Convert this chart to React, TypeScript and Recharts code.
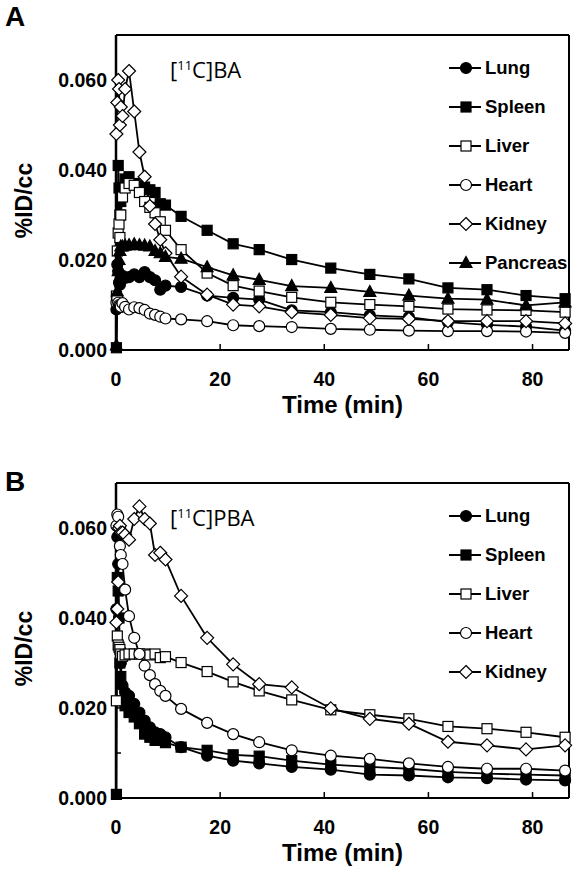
import { LineChart, Line, XAxis, YAxis, ReferenceLine, Legend, Label } from "recharts"

const TIMES = [0.08, 0.25, 0.42, 0.58, 0.75, 0.92, 1.25, 1.75, 2.5, 3.5, 4.5, 5.5, 6.5, 7.5, 8.5, 9.5, 12.5, 17.5, 22.5, 27.5, 33.75, 41.25, 48.75, 56.25, 63.75, 71.25, 78.75, 86.25]
const X_TICKS = [0, 20, 40, 60, 80]
const Y_TICKS = [0, 0.01, 0.02, 0.03, 0.04, 0.05, 0.06, 0.07]

// [11C]BA
const LUNG_A = [0.009, 0.019, 0.0175, 0.015, 0.0145, 0.016, 0.0165, 0.016, 0.0162, 0.0168, 0.0162, 0.0173, 0.0162, 0.0155, 0.0134, 0.0143, 0.014, 0.0121, 0.0116, 0.0112, 0.0088, 0.0084, 0.0077, 0.0073, 0.0062, 0.0056, 0.0052, 0.0043]
const SPLEEN_A = [0.0005, 0.0095, 0.041, 0.036, 0.03, 0.033, 0.036, 0.038, 0.0385, 0.037, 0.0365, 0.0362, 0.0356, 0.035, 0.0325, 0.0322, 0.0297, 0.0266, 0.0236, 0.0223, 0.0201, 0.0182, 0.0168, 0.0158, 0.0138, 0.0134, 0.0121, 0.0114]
const LIVER_A = [0.012, 0.022, 0.026, 0.028, 0.025, 0.03, 0.034, 0.036, 0.037, 0.0366, 0.035, 0.033, 0.0317, 0.0305, 0.0285, 0.0266, 0.0223, 0.0171, 0.0143, 0.0131, 0.0117, 0.0106, 0.0101, 0.0097, 0.0091, 0.0089, 0.0088, 0.0084]
const HEART_A = [0.0105, 0.0115, 0.0105, 0.01, 0.0098, 0.0096, 0.0104, 0.0096, 0.009, 0.0095, 0.0093, 0.0089, 0.0081, 0.0078, 0.0074, 0.007, 0.0068, 0.0064, 0.0055, 0.0053, 0.0051, 0.0047, 0.0045, 0.0043, 0.0042, 0.0042, 0.0041, 0.0038]
const KIDNEY_A = [0.048, 0.055, 0.06, 0.058, 0.05, 0.054, 0.052, 0.058, 0.062, 0.053, 0.044, 0.0385, 0.032, 0.028, 0.0245, 0.0215, 0.0163, 0.0123, 0.0101, 0.0097, 0.0084, 0.0078, 0.0071, 0.0069, 0.0064, 0.0064, 0.0064, 0.0059]
const PANCREAS_A = [0.001, 0.013, 0.0175, 0.02, 0.022, 0.023, 0.023, 0.0232, 0.0233, 0.0235, 0.0233, 0.0232, 0.023, 0.022, 0.0215, 0.0207, 0.0203, 0.0184, 0.0166, 0.0156, 0.0142, 0.0138, 0.0129, 0.0121, 0.0114, 0.0112, 0.0099, 0.0106]

// [11C]PBA
const LUNG_B = [0.042, 0.058, 0.052, 0.04, 0.033, 0.03, 0.025, 0.0235, 0.0227, 0.0209, 0.019, 0.0172, 0.0157, 0.0146, 0.0142, 0.0135, 0.0113, 0.0094, 0.0083, 0.0077, 0.0069, 0.0063, 0.0052, 0.005, 0.0046, 0.0044, 0.0041, 0.0039]
const SPLEEN_B = [0.0008, 0.049, 0.046, 0.04, 0.03, 0.027, 0.0216, 0.0205, 0.019, 0.018, 0.0165, 0.0142, 0.0135, 0.0128, 0.0128, 0.0123, 0.0113, 0.0106, 0.0096, 0.0093, 0.0083, 0.0074, 0.0069, 0.0065, 0.0058, 0.0054, 0.0052, 0.005]
const LIVER_B = [0.0216, 0.036, 0.034, 0.0335, 0.033, 0.032, 0.0315, 0.0318, 0.032, 0.032, 0.032, 0.032, 0.0318, 0.032, 0.0312, 0.0314, 0.0301, 0.0281, 0.0258, 0.0238, 0.0218, 0.0196, 0.0185, 0.0176, 0.0159, 0.0154, 0.0146, 0.0135]
const HEART_B = [0.0605, 0.063, 0.0625, 0.06, 0.056, 0.054, 0.052, 0.0463, 0.0404, 0.0356, 0.032, 0.0294, 0.0273, 0.0253, 0.0238, 0.0227, 0.0198, 0.0167, 0.0142, 0.0124, 0.0106, 0.0094, 0.0087, 0.0077, 0.0069, 0.0065, 0.0065, 0.0061]
const KIDNEY_B = [0.039, 0.042, 0.048, 0.06, 0.0605, 0.059, 0.059, 0.0585, 0.0574, 0.062, 0.0648, 0.062, 0.061, 0.054, 0.0545, 0.053, 0.0449, 0.0356, 0.0297, 0.0253, 0.0246, 0.0199, 0.0176, 0.0165, 0.0125, 0.0117, 0.0108, 0.0117]

type Shape = "circle" | "square" | "diamond" | "triangle"
interface Series { key: string; name: string; shape: Shape; filled: boolean; values: number[] }

const SERIES_A: Series[] = [
    { key: "lung", name: "Lung", shape: "circle", filled: true, values: LUNG_A },
    { key: "spleen", name: "Spleen", shape: "square", filled: true, values: SPLEEN_A },
    { key: "liver", name: "Liver", shape: "square", filled: false, values: LIVER_A },
    { key: "heart", name: "Heart", shape: "circle", filled: false, values: HEART_A },
    { key: "kidney", name: "Kidney", shape: "diamond", filled: false, values: KIDNEY_A },
    { key: "pancreas", name: "Pancreas", shape: "triangle", filled: true, values: PANCREAS_A },
]

const SERIES_B: Series[] = [
    { key: "lung", name: "Lung", shape: "circle", filled: true, values: LUNG_B },
    { key: "spleen", name: "Spleen", shape: "square", filled: true, values: SPLEEN_B },
    { key: "liver", name: "Liver", shape: "square", filled: false, values: LIVER_B },
    { key: "heart", name: "Heart", shape: "circle", filled: false, values: HEART_B },
    { key: "kidney", name: "Kidney", shape: "diamond", filled: false, values: KIDNEY_B },
]

const FONT = "'Liberation Sans', Arial, sans-serif"

function Marker({ cx, cy, shape, filled }: { cx?: number; cy?: number; shape: Shape; filled: boolean }) {
    if (cx == null || cy == null) return null
    const fill = filled ? "#000" : "#fff"
    const common = { fill, stroke: "#000", strokeWidth: 1.2 }
    if (shape === "circle") return <circle cx={cx} cy={cy} r={5.5} {...common} />
    if (shape === "square") return <rect x={cx - 5} y={cy - 5} width={10} height={10} {...common} />
    if (shape === "diamond")
        return <polygon points={`${cx},${cy - 6.5} ${cx + 6.5},${cy} ${cx},${cy + 6.5} ${cx - 6.5},${cy}`} {...common} />
    return <polygon points={`${cx},${cy - 6.5} ${cx + 6},${cy + 4.5} ${cx - 6},${cy + 4.5}`} {...common} />
}

function LegendBox({ series }: { series: Series[] }) {
    return (
        <div>
            {series.map((s) => (
                <div key={s.key} style={{ display: "flex", alignItems: "center", height: 39 }}>
                    <svg width={32} height={16} style={{ overflow: "visible" }}>
                        <line x1={0} y1={8} x2={32} y2={8} stroke="#000" strokeWidth={2} />
                        <Marker cx={17} cy={8} shape={s.shape} filled={s.filled} />
                    </svg>
                    <span style={{ marginLeft: 4, font: `bold 18.5px ${FONT}`, color: "#000" }}>{s.name}</span>
                </div>
            ))}
        </div>
    )
}

function Panel({ series, top, letter, tracer }: { series: Series[]; top: number; letter: string; tracer: string }) {
    const data = TIMES.map((t, i) => {
        const row: Record<string, number> = { t }
        series.forEach((s) => (row[s.key] = s.values[i]))
        return row
    })

    return (
        <div style={{ position: "absolute", left: 0, top, width: 578, height: 420 }}>
            <div style={{ position: "absolute", left: 5, top: letter === "A" ? 1 : 18, font: `bold 28px ${FONT}`, zIndex: 2 }}>
                {letter}
            </div>
            <div style={{ position: "absolute", left: 170, top: 54, font: "22px 'Open Sans', sans-serif", zIndex: 2, whiteSpace: "nowrap" }}>
                [<sup style={{ fontSize: 13 }}>11</sup>C]{tracer}
            </div>
            <LineChart width={578} height={420} data={data} margin={{ top: 35, right: 9, bottom: 0, left: 0 }}>
                <XAxis
                    dataKey="t"
                    type="number"
                    domain={[0, 87]}
                    ticks={X_TICKS}
                    height={70}
                    tickSize={-6}
                    tickMargin={28}
                    axisLine={{ stroke: "#000", strokeWidth: 2 }}
                    tickLine={{ stroke: "#000", strokeWidth: 1.5 }}
                    tick={{ fill: "#000", fontSize: 19.5, fontWeight: "bold", fontFamily: FONT }}
                >
                    <Label
                        content={({ viewBox }: any) => (
                            <text
                                x={viewBox.x + viewBox.width / 2}
                                y={viewBox.y + 63}
                                textAnchor="middle"
                                style={{ font: `bold 24px ${FONT}`, fill: "#000" }}
                            >
                                Time (min)
                            </text>
                        )}
                    />
                </XAxis>
                <YAxis
                    type="number"
                    domain={[0, 0.07]}
                    ticks={Y_TICKS}
                    width={116}
                    tickSize={-5}
                    tickMargin={14}
                    interval={0}
                    tickFormatter={(v: number) => (Math.round(v * 100) % 2 === 0 && v < 0.065 ? v.toFixed(3) : "")}
                    axisLine={{ stroke: "#000", strokeWidth: 2.5 }}
                    tickLine={{ stroke: "#000", strokeWidth: 1.5 }}
                    tick={{ fill: "#000", fontSize: 19.5, fontWeight: "bold", fontFamily: FONT }}
                >
                    <Label
                        content={({ viewBox }: any) => {
                            const cx = 24
                            const cy = viewBox.y + viewBox.height / 2 + 8
                            return (
                                <text
                                    x={cx}
                                    y={cy}
                                    textAnchor="middle"
                                    dominantBaseline="central"
                                    transform={`rotate(-90 ${cx} ${cy})`}
                                    style={{ font: `bold 23px ${FONT}`, fill: "#000" }}
                                >
                                    %ID/cc
                                </text>
                            )
                        }}
                    />
                </YAxis>
                <ReferenceLine y={0.07} stroke="#000" strokeWidth={2} />
                <ReferenceLine x={87} stroke="#000" strokeWidth={2} />
                {series.map((s) => (
                    <Line
                        key={s.key}
                        dataKey={s.key}
                        name={s.name}
                        stroke="#000"
                        strokeWidth={1.8}
                        isAnimationActive={false}
                        dot={(p: any) => <Marker key={`${s.key}-${p.index}`} cx={p.cx} cy={p.cy} shape={s.shape} filled={s.filled} />}
                    />
                ))}
                <Legend
                    layout="vertical"
                    align="center"
                    verticalAlign="middle"
                    wrapperStyle={{ left: 449, top: 48, width: 125 }}
                    content={() => <LegendBox series={series} />}
                />
            </LineChart>
        </div>
    )
}

export default function App() {
    return (
        <div style={{ position: "absolute", left: 0, top: 0, width: 578, height: 876, background: "#fff" }}>
            <Panel series={SERIES_A} top={0} letter="A" tracer="BA" />
            <Panel series={SERIES_B} top={448} letter="B" tracer="PBA" />
        </div>
    )
}
